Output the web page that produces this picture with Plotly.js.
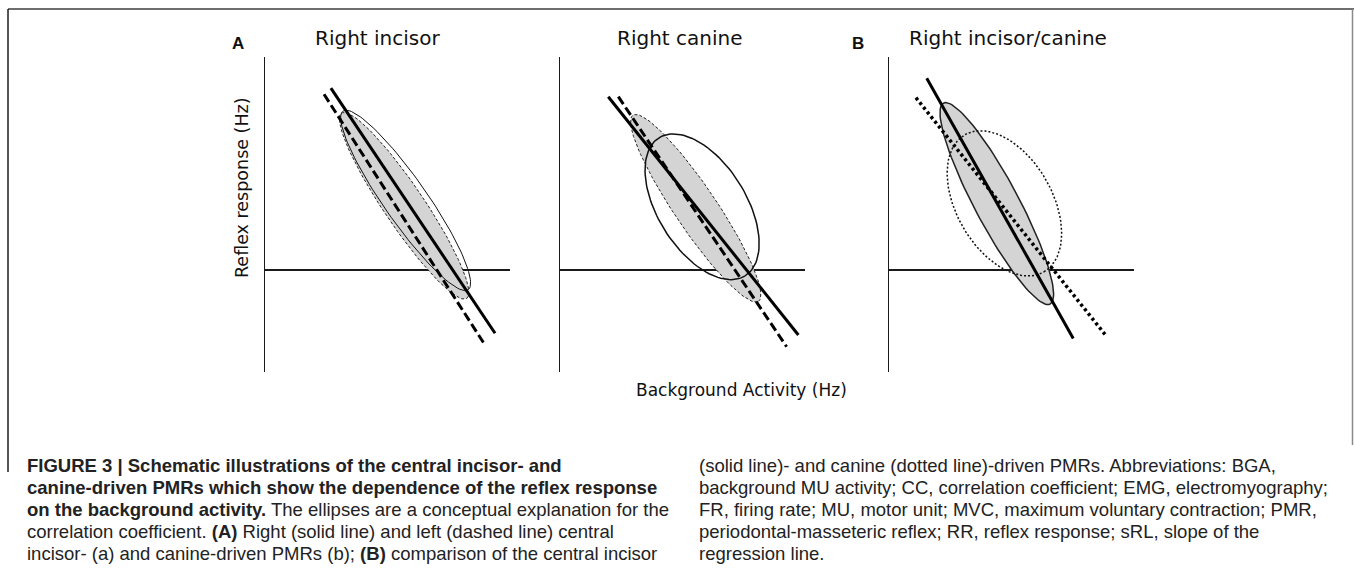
<!DOCTYPE html>
<html>
<head>
<meta charset="utf-8">
<script src="https://cdn.plot.ly/plotly-3.0.1.min.js"></script>
<style>
  html, body { margin: 0; padding: 0; background: #fff; }
  #chart { width: 1354px; height: 570px; }
</style>
</head>
<body>
<div id="chart"></div>
<script>
// ---------- DATA (schematic values, in axis units; origin = axis crossing) ----------
const panelTitles = ['Right incisor', 'Right canine', 'Right incisor/canine'];
const panelLetters = ['A', '', 'B'];
const xAxisLabel = 'Background Activity (Hz)';
const yAxisLabel = 'Reflex response (Hz)';

// solid regression line (right incisor / right canine / right incisor)
const solidLineX = [[2.69, 9.39], [1.97, 9.73], [1.54, 7.52]];
const solidLineY = [[7.42, -2.58], [7.07, -2.65], [7.82, -2.79]];
// dashed (left side) or dotted (canine) regression line
const brokenLineX = [[2.41, 8.98], [2.38, 9.25], [1.10, 8.89]];
const brokenLineY = [[7.17, -3.06], [7.07, -3.13], [7.03, -2.72]];

// grey filled ellipse: centre, semi-axes, tilt (deg)
const grayCx = [5.68, 5.54, 4.40];
const grayCy = [2.62, 2.52, 2.71];
const grayA = [4.56, 4.58, 4.64];
const grayB = [0.82, 0.86, 0.90];
const grayAngle = [-56, -56, -62];
// open (unfilled) ellipse
const openCx = [5.74, 5.80, 4.71];
const openCy = [2.84, 2.58, 2.72];
const openA = [4.45, 3.32, 3.23];
const openB = [0.88, 1.80, 1.95];
const openAngle = [-55, -58, -60];

const captionLeft = [
  '<b>FIGURE 3 | Schematic illustrations of the central incisor- and</b>',
  '<b>canine-driven PMRs which show the dependence of the reflex response</b>',
  '<b>on the background activity.</b> The ellipses are a conceptual explanation for the',
  'correlation coefficient. <b>(A)</b> Right (solid line) and left (dashed line) central',
  'incisor- (a) and canine-driven PMRs (b); <b>(B)</b> comparison of the central incisor'
];
const captionRight = [
  '(solid line)- and canine (dotted line)-driven PMRs. Abbreviations: BGA,',
  'background MU activity; CC, correlation coefficient; EMG, electromyography;',
  'FR, firing rate; MU, motor unit; MVC, maximum voluntary contraction; PMR,',
  'periodontal-masseteric reflex; RR, reflex response; sRL, slope of the',
  'regression line.'
];

// ---------- STYLE / LAYOUT ----------
const W = 1354, H = 570;
const px = x => x / W;
const py = y => 1 - y / H;
const panelLeft = [265, 560, 889];   // pixel x of vertical axis
const panelWidth = 245;
const plotTop = 57, plotBottom = 372;
const xRange = [0, 10];
const yRange = [-4.16, 8.69];
const grayOutline = [{dash: '3px,2px', width: 1}, {dash: '3px,2px', width: 1}, {dash: 'solid', width: 1.5}];
const openOutline = [{dash: 'solid', width: 1}, {dash: 'solid', width: 1.5}, {dash: '2px,2px', width: 1.5}];
const brokenStyle = [{dash: '9px,4px', width: 3}, {dash: '9px,4px', width: 3}, {dash: '3px,3px', width: 3.5}];

function ellipse(cx, cy, a, b, deg) {
  const th = deg * Math.PI / 180, xs = [], ys = [];
  for (let k = 0; k <= 120; k++) {
    const t = 2 * Math.PI * k / 120;
    xs.push(cx + a * Math.cos(t) * Math.cos(th) - b * Math.sin(t) * Math.sin(th));
    ys.push(cy + a * Math.cos(t) * Math.sin(th) + b * Math.sin(t) * Math.cos(th));
  }
  return {xs, ys};
}

const traces = [];
const layout = {
  width: W, height: H,
  margin: {l: 0, r: 0, t: 0, b: 0},
  paper_bgcolor: '#fff', plot_bgcolor: 'rgba(0,0,0,0)',
  showlegend: false,
  annotations: [], shapes: []
};

for (let i = 0; i < 3; i++) {
  const xa = i === 0 ? 'x' : 'x' + (i + 1);
  const ya = i === 0 ? 'y' : 'y' + (i + 1);
  const xKey = i === 0 ? 'xaxis' : 'xaxis' + (i + 1);
  const yKey = i === 0 ? 'yaxis' : 'yaxis' + (i + 1);
  layout[xKey] = {
    domain: [px(panelLeft[i]), px(panelLeft[i] + panelWidth)], range: xRange,
    showgrid: false, zeroline: false, showticklabels: false, ticks: '', showline: false,
    anchor: ya, fixedrange: true
  };
  layout[yKey] = {
    domain: [py(plotBottom), py(plotTop)], range: yRange,
    showgrid: false, showticklabels: false, ticks: '',
    showline: true, linecolor: '#1a1a1a', linewidth: 1.5,
    zeroline: true, zerolinecolor: '#1a1a1a', zerolinewidth: 1.2,
    anchor: xa, fixedrange: true
  };

  const g = ellipse(grayCx[i], grayCy[i], grayA[i], grayB[i], grayAngle[i]);
  traces.push({x: g.xs, y: g.ys, xaxis: xa, yaxis: ya, type: 'scatter', mode: 'lines',
    fill: 'toself', fillcolor: '#d4d4d4',
    line: {color: '#222', width: grayOutline[i].width, dash: grayOutline[i].dash}, hoverinfo: 'skip'});
  const o = ellipse(openCx[i], openCy[i], openA[i], openB[i], openAngle[i]);
  traces.push({x: o.xs, y: o.ys, xaxis: xa, yaxis: ya, type: 'scatter', mode: 'lines',
    line: {color: '#111', width: openOutline[i].width, dash: openOutline[i].dash}, hoverinfo: 'skip'});
  traces.push({x: brokenLineX[i], y: brokenLineY[i], xaxis: xa, yaxis: ya, type: 'scatter', mode: 'lines',
    line: {color: '#000', width: brokenStyle[i].width, dash: brokenStyle[i].dash}, hoverinfo: 'skip'});
  traces.push({x: solidLineX[i], y: solidLineY[i], xaxis: xa, yaxis: ya, type: 'scatter', mode: 'lines',
    line: {color: '#000', width: 3}, hoverinfo: 'skip'});
}

// titles
const titleX = [377, 680, 1008];
const letterX = [238, 0, 858];
for (let i = 0; i < 3; i++) {
  layout.annotations.push({xref: 'paper', yref: 'paper', x: px(titleX[i]), y: py(38),
    text: panelTitles[i], showarrow: false, xanchor: 'center', yanchor: 'middle',
    font: {family: 'DejaVu Sans, Verdana, sans-serif', size: 20, color: '#111'}});
  if (panelLetters[i]) {
    layout.annotations.push({xref: 'paper', yref: 'paper', x: px(letterX[i]), y: py(43),
      text: '<b>' + panelLetters[i] + '</b>', showarrow: false, xanchor: 'center', yanchor: 'middle',
      font: {family: 'Liberation Sans, Arial, sans-serif', size: 17, color: '#111'}});
  }
}
layout.annotations.push({xref: 'paper', yref: 'paper', x: px(242), y: py(188), textangle: -90,
  text: yAxisLabel, showarrow: false, xanchor: 'center', yanchor: 'middle',
  font: {family: 'DejaVu Sans, Verdana, sans-serif', size: 17.5, color: '#111'}});
layout.annotations.push({xref: 'paper', yref: 'paper', x: px(741), y: py(390),
  text: xAxisLabel, showarrow: false, xanchor: 'center', yanchor: 'middle',
  font: {family: 'DejaVu Sans, Verdana, sans-serif', size: 17, color: '#111'}});

// caption
const capFont = {family: 'Liberation Sans, Arial, sans-serif', size: 18.5, color: '#222'};
const capY = [465, 487, 509, 531, 553];
captionLeft.forEach((t, k) => layout.annotations.push({xref: 'paper', yref: 'paper', x: px(25), y: py(capY[k]),
  text: t, showarrow: false, xanchor: 'left', yanchor: 'middle', font: capFont}));
captionRight.forEach((t, k) => layout.annotations.push({xref: 'paper', yref: 'paper', x: px(697), y: py(capY[k]),
  text: t, showarrow: false, xanchor: 'left', yanchor: 'middle', font: capFont}));

// frame
layout.shapes.push({type: 'line', xref: 'paper', yref: 'paper', x0: px(8), x1: px(1354), y0: py(9), y1: py(9),
  line: {color: '#6e6e6e', width: 2}});
layout.shapes.push({type: 'line', xref: 'paper', yref: 'paper', x0: px(8), x1: px(8), y0: py(9), y1: py(472),
  line: {color: '#1e1e1e', width: 1.5}});
layout.shapes.push({type: 'line', xref: 'paper', yref: 'paper', x0: px(1352.5), x1: px(1352.5), y0: py(9), y1: py(445),
  line: {color: '#8a8a8a', width: 1.5}});

Plotly.newPlot('chart', traces, layout, {staticPlot: true, displayModeBar: false});
</script>
</body>
</html>
